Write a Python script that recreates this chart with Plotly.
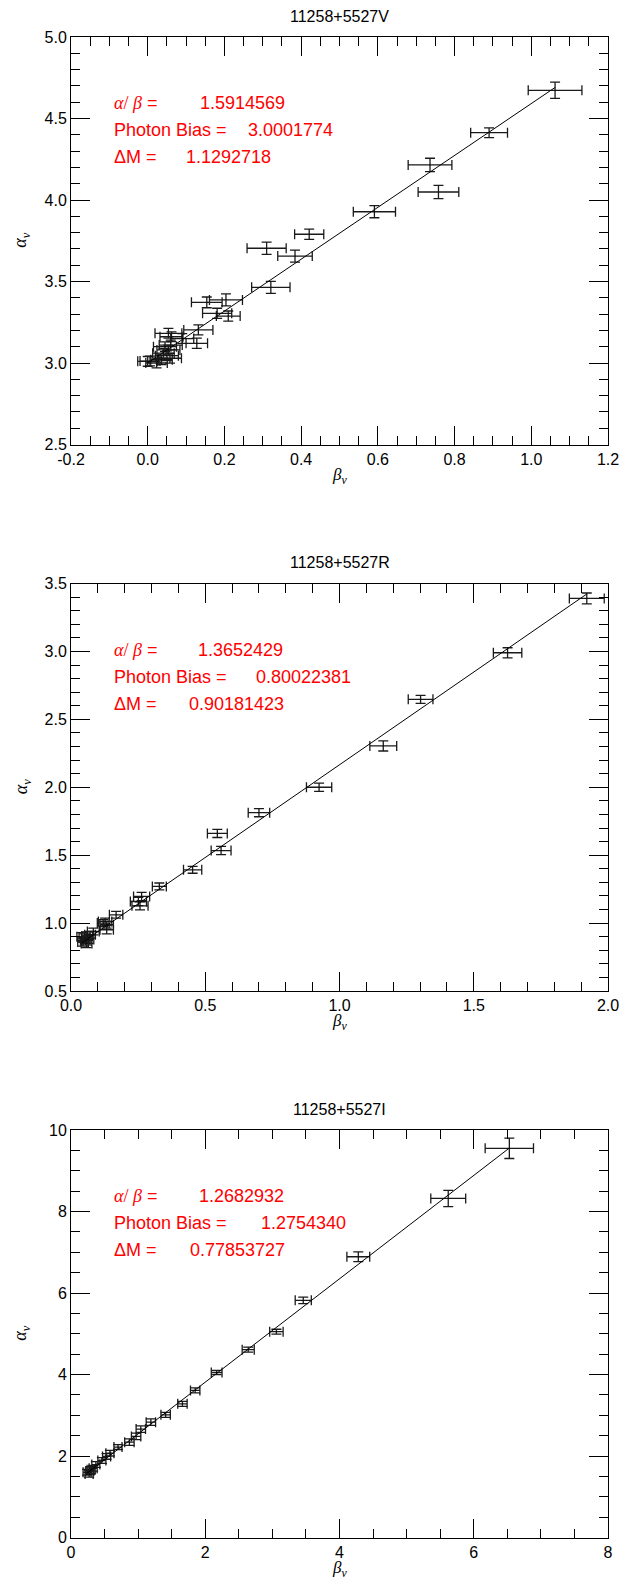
import plotly.graph_objects as go

# ---- 11258+5527V ----
v_beta = [1.062, 0.890, 0.736, 0.758, 0.591, 0.421, 0.310, 0.384, 0.321, 0.204,
          0.154, 0.210, 0.181, 0.132, 0.128, 0.054, 0.062, 0.090, 0.045, 0.054,
          0.041, 0.060, 0.050, 0.058, 0.036, 0.023, 0.006, 0.000]
v_alpha = [4.673, 4.413, 4.215, 4.049, 3.928, 3.790, 3.704, 3.656, 3.464, 3.387,
           3.372, 3.288, 3.305, 3.203, 3.121, 3.182, 3.161, 3.150, 3.100, 3.080,
           3.060, 3.110, 3.045, 3.029, 3.020, 3.000, 3.012, 3.010]
v_beta_err = [0.070, 0.048, 0.057, 0.053, 0.055, 0.038, 0.051, 0.045, 0.050, 0.043,
              0.040, 0.031, 0.038, 0.038, 0.028, 0.035, 0.030, 0.030, 0.030, 0.030,
              0.028, 0.030, 0.030, 0.030, 0.028, 0.028, 0.026, 0.026]
v_alpha_err = [0.050, 0.030, 0.041, 0.041, 0.037, 0.031, 0.037, 0.037, 0.037, 0.037,
               0.033, 0.031, 0.031, 0.031, 0.031, 0.030, 0.030, 0.030, 0.030, 0.030,
               0.030, 0.030, 0.030, 0.030, 0.030, 0.030, 0.030, 0.030]
v_ratio, v_bias = 1.5914569, 3.0001774
v_ratio_txt, v_bias_txt, v_dm_txt = "1.5914569", "3.0001774", "1.1292718"
v_xticks = ["-0.2", "0.0", "0.2", "0.4", "0.6", "0.8", "1.0", "1.2"]
v_yticks = ["2.5", "3.0", "3.5", "4.0", "4.5", "5.0"]

# ---- 11258+5527R ----
r_beta = [1.921, 1.626, 1.302, 1.163, 0.924, 0.700, 0.545, 0.559, 0.453, 0.329,
          0.263, 0.251, 0.257, 0.168, 0.127, 0.133, 0.133, 0.120, 0.083, 0.071,
          0.060, 0.050, 0.055, 0.045, 0.065, 0.040, 0.058]
r_alpha = [3.390, 2.990, 2.647, 2.304, 2.000, 1.813, 1.660, 1.534, 1.392, 1.270,
           1.196, 1.159, 1.127, 1.061, 1.012, 0.988, 0.951, 1.000, 0.938, 0.914,
           0.905, 0.890, 0.870, 0.860, 0.880, 0.900, 0.850]
r_beta_err = [0.065, 0.053, 0.046, 0.050, 0.047, 0.040, 0.037, 0.037, 0.034, 0.026,
              0.030, 0.030, 0.030, 0.025, 0.025, 0.025, 0.025, 0.022, 0.022, 0.020,
              0.020, 0.020, 0.020, 0.020, 0.020, 0.018, 0.020]
r_alpha_err = [0.040, 0.037, 0.030, 0.037, 0.030, 0.030, 0.030, 0.030, 0.025, 0.025,
               0.030, 0.030, 0.030, 0.025, 0.025, 0.025, 0.030, 0.025, 0.025, 0.025,
               0.030, 0.030, 0.030, 0.030, 0.030, 0.030, 0.030]
r_ratio, r_bias = 1.3652429, 0.80022381
r_ratio_txt, r_bias_txt, r_dm_txt = "1.3652429", "0.80022381", "0.90181423"
r_xticks = ["0.0", "0.5", "1.0", "1.5", "2.0"]
r_yticks = ["0.5", "1.0", "1.5", "2.0", "2.5", "3.0", "3.5"]

# ---- 11258+5527I ----
i_beta = [6.53, 5.62, 4.28, 3.46, 3.06, 2.64, 2.17, 1.85, 1.66, 1.41,
          1.19, 1.04, 0.97, 0.87, 0.70, 0.58, 0.53, 0.46, 0.37, 0.33,
          0.28, 0.27, 0.24, 0.30]
i_alpha = [9.55, 8.32, 6.89, 5.82, 5.05, 4.61, 4.05, 3.61, 3.28, 3.01,
           2.83, 2.66, 2.48, 2.34, 2.22, 2.07, 1.99, 1.89, 1.79, 1.70,
           1.63, 1.56, 1.60, 1.66]
i_beta_err = [0.36, 0.26, 0.17, 0.12, 0.10, 0.09, 0.08, 0.07, 0.07, 0.07,
              0.07, 0.07, 0.07, 0.07, 0.06, 0.06, 0.06, 0.06, 0.06, 0.06,
              0.06, 0.06, 0.06, 0.06]
i_alpha_err = [0.25, 0.20, 0.12, 0.08, 0.06, 0.06, 0.05, 0.06, 0.06, 0.06,
               0.08, 0.08, 0.08, 0.08, 0.06, 0.07, 0.07, 0.07, 0.07, 0.07,
               0.08, 0.08, 0.07, 0.08]
i_ratio, i_bias = 1.2682932, 1.2754340
i_ratio_txt, i_bias_txt, i_dm_txt = "1.2682932", "1.2754340", "0.77853727"
i_xticks = ["0", "2", "4", "6", "8"]
i_yticks = ["0", "2", "4", "6", "8", "10"]

titles = ["11258+5527V", "11258+5527R", "11258+5527I"]

W, H = 620, 1581
PLOT_L, PLOT_R = 71, 608
PANEL_TOPS = [37, 583.5, 1130]
PANEL_H = 407.5


def px(x):
    return x / W


def py(y):
    return 1 - y / H


panels = [
    dict(beta=v_beta, alpha=v_alpha, be=v_beta_err, ae=v_alpha_err,
         ratio=v_ratio, bias=v_bias, txt=(v_ratio_txt, v_bias_txt, v_dm_txt),
         xr=[-0.2, 1.2], yr=[2.5, 5.0], xm=0.05, ym=0.1,
         xt=v_xticks, yt=v_yticks, vx=(198, 246, 184)),
    dict(beta=r_beta, alpha=r_alpha, be=r_beta_err, ae=r_alpha_err,
         ratio=r_ratio, bias=r_bias, txt=(r_ratio_txt, r_bias_txt, r_dm_txt),
         xr=[0.0, 2.0], yr=[0.5, 3.5], xm=0.1, ym=0.1,
         xt=r_xticks, yt=r_yticks, vx=(196, 254, 187)),
    dict(beta=i_beta, alpha=i_alpha, be=i_beta_err, ae=i_alpha_err,
         ratio=i_ratio, bias=i_bias, txt=(i_ratio_txt, i_bias_txt, i_dm_txt),
         xr=[0, 8], yr=[0, 10], xm=0.5, ym=0.5,
         xt=i_xticks, yt=i_yticks, vx=(197, 259, 188)),
]

fig = go.Figure()
annotations = []
SANS = "Liberation Sans, Arial, sans-serif"
SERIF = "Liberation Serif, Times New Roman, serif"

for k, p in enumerate(panels):
    n = k + 1
    xa = "x" if n == 1 else f"x{n}"
    ya = "y" if n == 1 else f"y{n}"
    top = PANEL_TOPS[k]
    bot = top + PANEL_H

    # data points with error bars
    fig.add_trace(go.Scatter(
        x=p["beta"], y=p["alpha"], mode="markers",
        marker=dict(size=1, color="black"),
        error_x=dict(type="data", array=p["be"], color="#1a1a1a", thickness=1.3, width=5),
        error_y=dict(type="data", array=p["ae"], color="#1a1a1a", thickness=1.3, width=5),
        xaxis=xa, yaxis=ya, showlegend=False, hoverinfo="skip"))

    # fitted relation alpha = bias + ratio * beta over the data span
    bmin, bmax = min(p["beta"]), max(p["beta"])
    fig.add_trace(go.Scatter(
        x=[bmin, bmax], y=[p["bias"] + p["ratio"] * bmin, p["bias"] + p["ratio"] * bmax],
        mode="lines", line=dict(color="black", width=1),
        xaxis=xa, yaxis=ya, showlegend=False, hoverinfo="skip"))

    common = dict(showline=True, linecolor="black", linewidth=1, mirror="allticks",
                  ticks="inside", ticklen=19, tickwidth=1, tickcolor="black",
                  showgrid=False, zeroline=False, automargin=False,
                  tickfont=dict(family=SANS, size=16, color="black"))
    fig.layout[f"xaxis{'' if n == 1 else n}"] = dict(
        common, range=p["xr"], domain=[px(PLOT_L), px(PLOT_R)], anchor=ya,
        tickmode="array", tickvals=[float(t) for t in p["xt"]], ticktext=p["xt"],
        minor=dict(dtick=p["xm"], tick0=p["xr"][0], ticklen=9, ticks="inside",
                   tickcolor="black", tickwidth=1, showgrid=False))
    fig.layout[f"yaxis{'' if n == 1 else n}"] = dict(
        common, range=p["yr"], domain=[py(bot), py(top)], anchor=xa,
        tickmode="array", tickvals=[float(t) for t in p["yt"]], ticktext=p["yt"],
        minor=dict(dtick=p["ym"], tick0=p["yr"][0], ticklen=9, ticks="inside",
                   tickcolor="black", tickwidth=1, showgrid=False))

    cx = (PLOT_L + PLOT_R) / 2
    annotations.append(dict(text=titles[k], x=px(cx), y=py(top - 21), xref="paper", yref="paper",
                            showarrow=False, xanchor="center", yanchor="middle",
                            font=dict(family=SANS, size=16, color="black")))
    annotations.append(dict(text="<i>β<sub>ν</sub></i>", x=px(cx), y=py(bot + 31),
                            xref="paper", yref="paper", showarrow=False,
                            xanchor="center", yanchor="middle",
                            font=dict(family=SERIF, size=17, color="black")))
    annotations.append(dict(text="<i>α<sub>ν</sub></i>", x=px(22), y=py((top + bot) / 2),
                            xref="paper", yref="paper", showarrow=False, textangle=-90,
                            xanchor="center", yanchor="middle",
                            font=dict(family=SERIF, size=18, color="black")))

    labels = ['<span style="font-family:Liberation Serif"><i>α</i>/ <i>β</i></span> =',
              "Photon Bias =", "ΔM ="]
    for j in range(3):
        yy = top + 66 + 27 * j
        annotations.append(dict(text=labels[j], x=px(112), y=py(yy), xref="paper", yref="paper",
                                showarrow=False, xanchor="left", yanchor="middle",
                                font=dict(family=SANS, size=18, color="red")))
        annotations.append(dict(text=p["txt"][j], x=px(p["vx"][j]), y=py(yy),
                                xref="paper", yref="paper",
                                showarrow=False, xanchor="left", yanchor="middle",
                                font=dict(family=SANS, size=18, color="red")))

fig.update_layout(width=W, height=H, autosize=False,
                  margin=dict(l=0, r=0, t=0, b=0),
                  paper_bgcolor="white", plot_bgcolor="white",
                  annotations=annotations)

fig.write_html("out.html")
